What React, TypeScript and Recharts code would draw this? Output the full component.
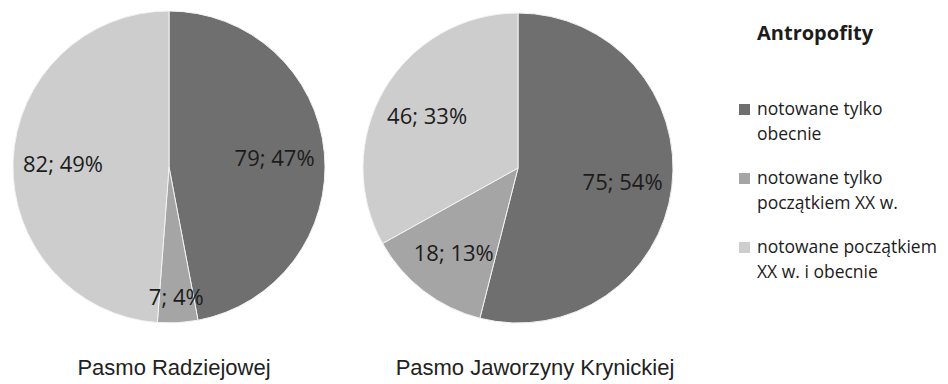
import { PieChart, Pie, Cell } from "recharts";

const categories = [
  "notowane tylko obecnie",
  "notowane tylko początkiem XX w.",
  "notowane początkiem XX w. i obecnie",
];
const legendLines = [
  ["notowane tylko", "obecnie"],
  ["notowane tylko", "początkiem XX w."],
  ["notowane początkiem", "XX w. i obecnie"],
];
const radziejowej = [79, 7, 82];
const jaworzyny = [75, 18, 46];
const pieTitles = ["Pasmo Radziejowej", "Pasmo Jaworzyny Krynickiej"];
const legendTitle = "Antropofity";

const colors = ["#6f6f6f", "#a5a5a5", "#cdcdcd"];

const toRows = (vals: number[]) =>
  vals.map((v, i) => ({ name: categories[i], value: v }));

const RADIAN = Math.PI / 180;

// inside labels, thin slices pushed toward the rim like excel's best fit
function renderLabel(props: any) {
  const { cx, cy, midAngle, outerRadius, percent, value } = props;
  const k = percent < 0.06 ? 0.83 : 0.68;
  const r = outerRadius * k;
  const x = cx + r * Math.cos(-midAngle * RADIAN);
  const y = cy + r * Math.sin(-midAngle * RADIAN);
  return (
    <text
      x={x}
      y={y}
      fill="#1c1c1c"
      fontSize={22}
      fontFamily="'Open Sans', sans-serif"
      textAnchor="middle"
      dominantBaseline="central"
    >
      {`${value}; ${Math.round(percent * 100)}%`}
    </text>
  );
}

export default function App() {
  return (
    <div
      style={{
        position: "absolute",
        left: 0,
        top: 0,
        width: 948,
        height: 384,
        background: "#fff",
        overflow: "hidden",
      }}
    >
      <PieChart
        width={948}
        height={384}
        margin={{ top: 0, right: 0, bottom: 0, left: 0 }}
      >
        <Pie
          data={toRows(radziejowej)}
          dataKey="value"
          cx={169}
          cy={167}
          outerRadius={156}
          startAngle={90}
          endAngle={-270}
          stroke="#f2f2f2"
          strokeWidth={1}
          label={renderLabel}
          labelLine={false}
          isAnimationActive={false}
        >
          {radziejowej.map((_, i) => (
            <Cell key={i} fill={colors[i]} />
          ))}
        </Pie>
        <Pie
          data={toRows(jaworzyny)}
          dataKey="value"
          cx={518}
          cy={168}
          outerRadius={155}
          startAngle={90}
          endAngle={-270}
          stroke="#f2f2f2"
          strokeWidth={1}
          label={renderLabel}
          labelLine={false}
          isAnimationActive={false}
        >
          {jaworzyny.map((_, i) => (
            <Cell key={i} fill={colors[i]} />
          ))}
        </Pie>
      </PieChart>

      {/* titles under pies */}
      {pieTitles.map((t, i) => (
        <div
          key={t}
          style={{
            position: "absolute",
            left: i === 0 ? 174 : 535,
            top: 368,
            transform: "translate(-50%, -50%)",
            whiteSpace: "nowrap",
            fontFamily: "'Liberation Sans', Arial, sans-serif",
            fontSize: 22,
            color: "#222",
          }}
        >
          {t}
        </div>
      ))}

      {/* legend */}
      <div
        style={{
          position: "absolute",
          left: 739,
          top: 20,
          fontFamily: "'Open Sans', sans-serif",
          color: "#1c1c1c",
        }}
      >
        <div
          style={{
            fontWeight: 700,
            fontSize: 20,
            marginLeft: 18,
            lineHeight: "26px",
          }}
        >
          {legendTitle}
        </div>
        <div style={{ marginTop: 50 }}>
          {legendLines.map((lines, i) => (
            <div
              key={categories[i]}
              style={{
                display: "flex",
                alignItems: "flex-start",
                marginBottom: 19,
                fontSize: 17.5,
                lineHeight: "25px",
              }}
            >
              <span
                style={{
                  width: 11,
                  height: 11,
                  background: colors[i],
                  marginTop: 8,
                  marginRight: 7,
                  flexShrink: 0,
                }}
              />
              <div>
                {lines.map((l) => (
                  <div key={l}>{l}</div>
                ))}
              </div>
            </div>
          ))}
        </div>
      </div>
    </div>
  );
}
